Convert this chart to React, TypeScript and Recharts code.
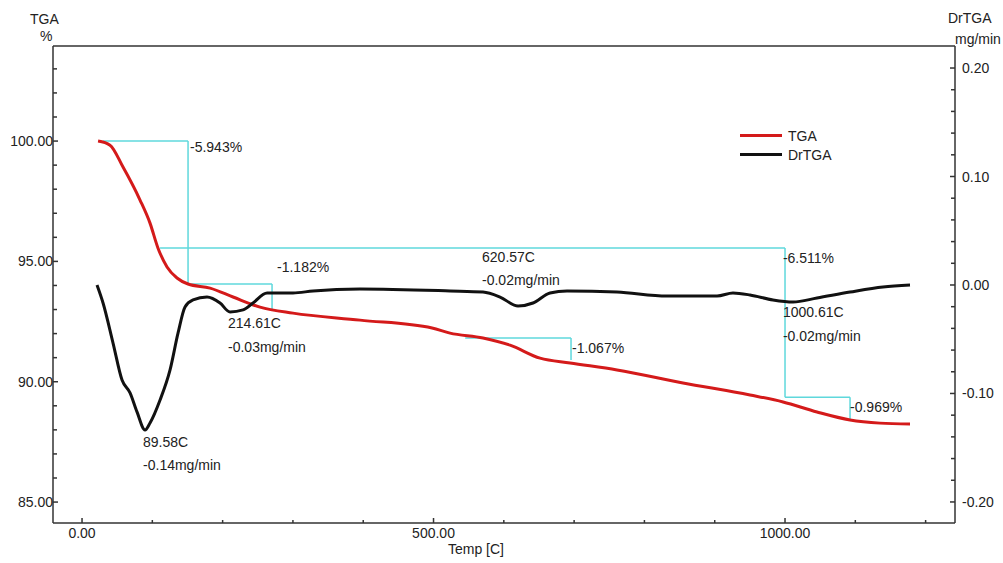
import React from "react";
import {
  ComposedChart,
  Line,
  XAxis,
  YAxis,
  ReferenceLine,
  ReferenceDot,
} from "recharts";

// TGA curve (temperature °C, mass %)
const tgaTemp = [22.8, 39.8, 58.3, 82.5, 96.7, 108.1, 120.9, 135.1, 150.8, 182.1, 214.8, 253.2, 300.1, 395.4, 497.9, 523.5, 570.4, 608.8, 651.5, 694.2, 761.0, 854.9, 950.2, 997.2, 1045.5, 1092.5, 1135.1, 1177.8];
const tgaValue = [100.0, 99.83, 98.92, 97.55, 96.59, 95.55, 94.77, 94.31, 94.06, 93.89, 93.52, 93.1, 92.85, 92.56, 92.23, 92.02, 91.82, 91.52, 90.98, 90.78, 90.49, 89.95, 89.45, 89.16, 88.74, 88.41, 88.28, 88.24];

// DrTGA curve (temperature °C, mg/min)
const dtgTemp = [21.3, 29.9, 44.1, 56.9, 68.3, 78.2, 89.6, 96.7, 111.0, 125.2, 136.6, 146.5, 157.9, 177.8, 196.3, 210.5, 229.0, 243.2, 263.2, 300.1, 328.6, 395.4, 523.5, 570.4, 594.6, 620.2, 641.5, 665.7, 689.9, 761.0, 832.1, 903.3, 926.0, 950.2, 982.9, 1011.4, 1045.5, 1092.5, 1139.4, 1177.8];
const dtgValue = [0.0, -0.0166, -0.0535, -0.0876, -0.0995, -0.117, -0.1336, -0.1272, -0.106, -0.0783, -0.0442, -0.0203, -0.0138, -0.0111, -0.0166, -0.0249, -0.023, -0.0166, -0.0074, -0.0074, -0.0055, -0.0037, -0.0055, -0.0065, -0.0111, -0.0194, -0.0166, -0.0074, -0.0055, -0.0065, -0.0101, -0.0101, -0.0074, -0.0092, -0.0138, -0.0157, -0.012, -0.0065, -0.0018, 0.0];

// axis ticks
const xTicks = [0, 100, 200, 300, 400, 500, 600, 700, 800, 900, 1000, 1100, 1200];
const xLabels = ["0.00", "", "", "", "", "500.00", "", "", "", "", "1000.00", "", ""];
const tgaTicks = [85, 86, 87, 88, 89, 90, 91, 92, 93, 94, 95, 96, 97, 98, 99, 100, 101, 102, 103];
const tgaLabels = ["85.00", "", "", "", "", "90.00", "", "", "", "", "95.00", "", "", "", "", "100.00", "", "", ""];
const dtgTicks = [-0.2, -0.18, -0.16, -0.14, -0.12, -0.1, -0.08, -0.06, -0.04, -0.02, 0, 0.02, 0.04, 0.06, 0.08, 0.1, 0.12, 0.14, 0.16, 0.18, 0.2];
const dtgLabels = ["-0.20", "", "", "", "", "-0.10", "", "", "", "", "0.00", "", "", "", "", "0.10", "", "", "", "", "0.20"];

// step analysis lines (temperature, mass %)
const stepLines = [
  [29.9, 100.0, 150.8, 100.0],
  [150.8, 100.0, 150.8, 94.06],
  [150.8, 94.06, 270.3, 94.06],
  [270.3, 94.06, 270.3, 92.98],
  [111.0, 95.555, 1000.0, 95.555],
  [1000.0, 95.555, 1000.0, 89.36],
  [1000.0, 89.36, 1092.5, 89.36],
  [1092.5, 89.36, 1092.5, 88.41],
  [545.0, 91.82, 695.6, 91.82],
  [695.6, 91.82, 695.6, 90.9],
];

// annotation texts anchored at (temperature, mass %)
const notes = [
  { text: "-5.943%", t: 153.6, v: 99.75 },
  { text: "-1.182%", t: 277.4, v: 94.77 },
  { text: "214.61C", t: 207.7, v: 92.44 },
  { text: "-0.03mg/min", t: 207.7, v: 91.44 },
  { text: "89.58C", t: 86.8, v: 87.49 },
  { text: "-0.14mg/min", t: 86.8, v: 86.54 },
  { text: "620.57C", t: 569.0, v: 95.18 },
  { text: "-0.02mg/min", t: 569.0, v: 94.23 },
  { text: "-6.511%", t: 997.0, v: 95.14 },
  { text: "1000.61C", t: 997.0, v: 92.9 },
  { text: "-0.02mg/min", t: 997.0, v: 91.9 },
  { text: "-1.067%", t: 697.0, v: 91.4 },
  { text: "-0.969%", t: 1092.5, v: 88.95 },
];

const tgaData = tgaTemp.map((t, i) => ({ t, v: tgaValue[i] }));
const dtgData = dtgTemp.map((t, i) => ({ t, d: dtgValue[i] }));

const FONT = "'Liberation Sans', Arial, sans-serif";
const TXT = "#222";
const CYAN = "#5fd8dc";

const labelOf = (ticks: number[], labels: string[], v: number) => {
  const i = ticks.findIndex((k) => Math.abs(k - v) < 1e-6);
  return i >= 0 ? labels[i] : "";
};

const BottomTick = (props: any) => {
  const { x, y, payload } = props;
  const lab = labelOf(xTicks, xLabels, payload.value);
  return (
    <g>
      <line x1={x} x2={x} y1={y} y2={y - (lab ? 5 : 3)} stroke="#333" strokeWidth={1.5} />
      {lab && (
        <text x={x} y={y + 15} textAnchor="middle" fontSize={14} fontFamily={FONT} fill={TXT}>
          {lab}
        </text>
      )}
    </g>
  );
};

const LeftTick = (props: any) => {
  const { x, y, payload } = props;
  const lab = labelOf(tgaTicks, tgaLabels, payload.value);
  return (
    <g>
      <line x1={x} x2={x + (lab ? 5 : 4)} y1={y} y2={y} stroke="#333" strokeWidth={1.5} />
      {lab && (
        <text x={x} y={y + 5} textAnchor="end" fontSize={14} fontFamily={FONT} fill={TXT}>
          {lab}
        </text>
      )}
    </g>
  );
};

const RightTick = (props: any) => {
  const { x, y, payload } = props;
  const lab = labelOf(dtgTicks, dtgLabels, payload.value);
  return (
    <g>
      <line x1={x} x2={x - (lab ? 5 : 4)} y1={y} y2={y} stroke="#333" strokeWidth={1.5} />
      {lab && (
        <text x={x + 7} y={y + 5} textAnchor="start" fontSize={14} fontFamily={FONT} fill={TXT}>
          {lab}
        </text>
      )}
    </g>
  );
};

const noteShape = (text: string) => (p: any) => (
  <text x={p.cx} y={p.cy + 5} fontSize={14} fontFamily={FONT} fill={TXT}>
    {text}
  </text>
);

const abs = (left: number, top: number): React.CSSProperties => ({
  position: "absolute",
  left,
  top,
  fontFamily: FONT,
  fontSize: 14,
  color: TXT,
  lineHeight: "16px",
  whiteSpace: "nowrap",
});

export default function App() {
  return (
    <div style={{ position: "absolute", left: 0, top: 0, width: 1000, height: 560, background: "#fff" }}>
      <ComposedChart
        width={1000}
        height={560}
        margin={{ top: 46, right: 0, bottom: 0, left: 0 }}
      >
        <XAxis
          dataKey="t"
          type="number"
          domain={[-41.3, 1241.8]}
          ticks={xTicks}
          interval={0}
          tickSize={0}
          tickMargin={0}
          tick={BottomTick}
          height={37}
          axisLine={{ stroke: "#333", strokeWidth: 1.5 }}
          allowDataOverflow
        />
        <YAxis
          yAxisId="tga"
          orientation="left"
          type="number"
          domain={[84.13, 103.95]}
          ticks={tgaTicks}
          interval={0}
          tickSize={0}
          tickMargin={0}
          tick={LeftTick}
          width={53}
          axisLine={{ stroke: "#333", strokeWidth: 1.5 }}
          allowDataOverflow
        />
        <YAxis
          yAxisId="dtg"
          orientation="right"
          type="number"
          domain={[-0.2194, 0.2203]}
          ticks={dtgTicks}
          interval={0}
          tickSize={0}
          tickMargin={0}
          tick={RightTick}
          width={45}
          axisLine={{ stroke: "#333", strokeWidth: 1.5 }}
          allowDataOverflow
        />
        <ReferenceLine yAxisId="tga" y={103.95} stroke="#333" strokeWidth={1.5} />
        {stepLines.map((s, i) => (
          <ReferenceLine
            key={"s" + i}
            yAxisId="tga"
            segment={[
              { x: s[0], y: s[1] },
              { x: s[2], y: s[3] },
            ]}
            stroke={CYAN}
            strokeWidth={1.5}
          />
        ))}
        <Line
          data={tgaData}
          yAxisId="tga"
          dataKey="v"
          type="monotone"
          stroke="#d41a1a"
          strokeWidth={3}
          dot={false}
          isAnimationActive={false}
        />
        <Line
          data={dtgData}
          yAxisId="dtg"
          dataKey="d"
          type="monotone"
          stroke="#111"
          strokeWidth={3}
          dot={false}
          isAnimationActive={false}
        />
        {notes.map((n, i) => (
          <ReferenceDot
            key={"n" + i}
            yAxisId="tga"
            x={n.t}
            y={n.v}
            r={0}
            shape={noteShape(n.text)}
          />
        ))}
      </ComposedChart>
      <div style={{ ...abs(30, 11) }}>TGA</div>
      <div style={{ ...abs(40, 28) }}>%</div>
      <div style={{ ...abs(948, 10) }}>DrTGA</div>
      <div style={{ ...abs(955, 31) }}>mg/min</div>
      <div style={{ ...abs(448, 541) }}>Temp [C]</div>
      <div style={{ position: "absolute", left: 740, top: 126 }}>
        <div style={{ display: "flex", alignItems: "center", height: 19 }}>
          <div style={{ width: 42, height: 3, background: "#d41a1a" }} />
          <span style={{ ...abs(0, 0), position: "static", marginLeft: 6 }}>TGA</span>
        </div>
        <div style={{ display: "flex", alignItems: "center", height: 19 }}>
          <div style={{ width: 42, height: 3, background: "#111" }} />
          <span style={{ ...abs(0, 0), position: "static", marginLeft: 6 }}>DrTGA</span>
        </div>
      </div>
    </div>
  );
}
